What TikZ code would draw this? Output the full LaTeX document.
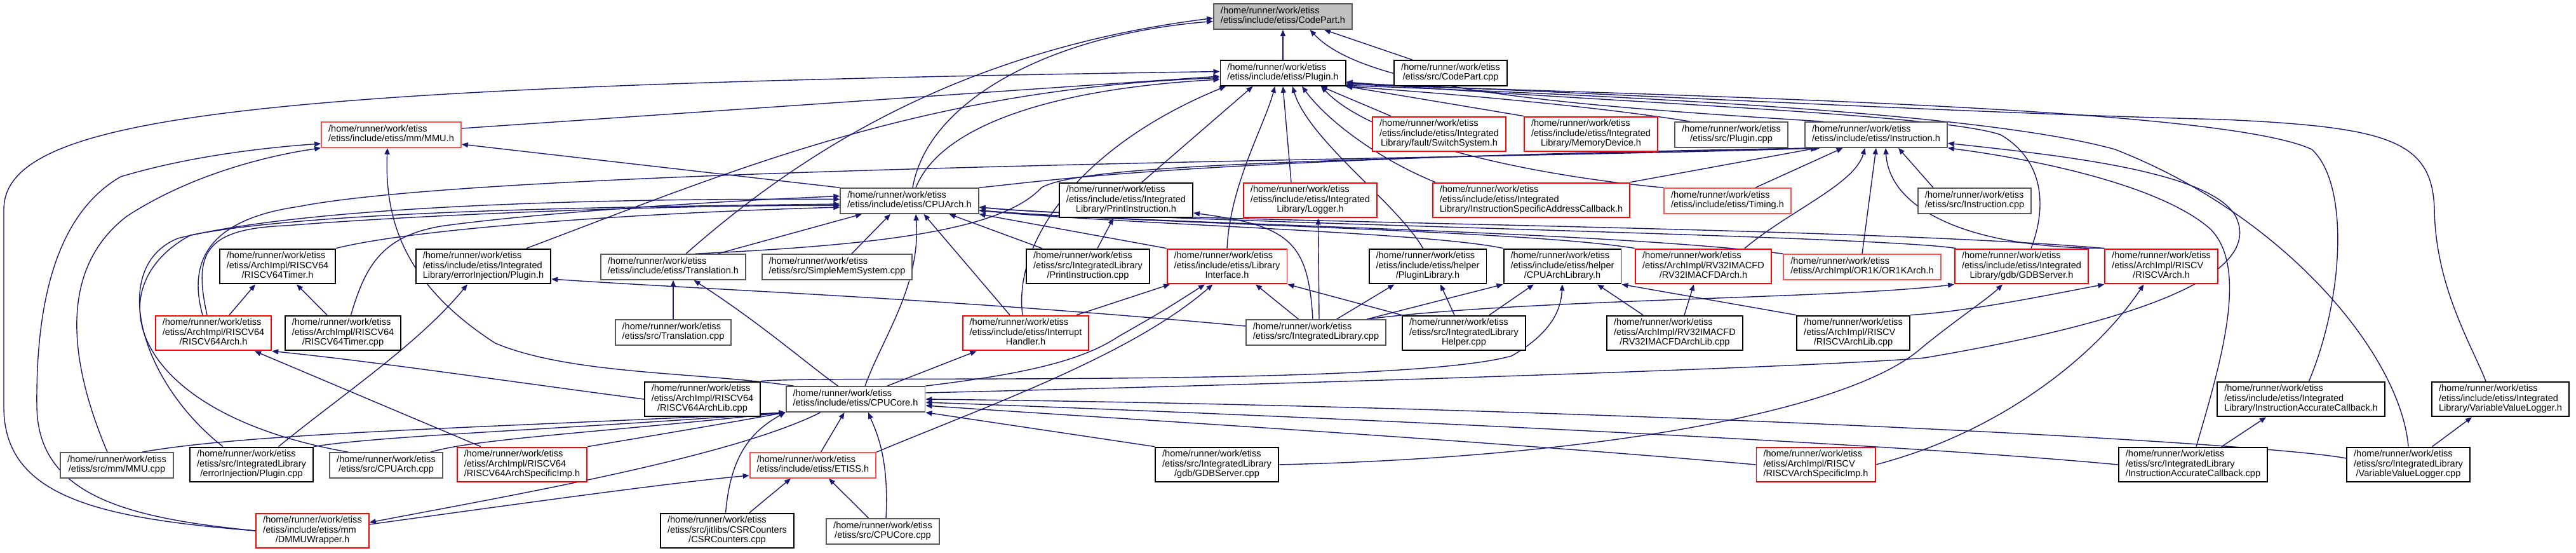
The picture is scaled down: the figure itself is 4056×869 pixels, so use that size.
\documentclass[tikz,border=0pt]{standalone}
\usepackage{fontspec}
\usepackage{tikz}
\usetikzlibrary{arrows.meta,backgrounds}
\newfontfamily\dxfont{Liberation Sans}
\definecolor{edgeblue}{HTML}{191970}
\definecolor{rootgray}{HTML}{BFBFBF}
\definecolor{boxgray}{HTML}{595959}
\definecolor{truncred}{HTML}{FF0000}
\definecolor{lightred}{HTML}{FF5050}
% file label: all lines left, last line centred
\newcommand{\flabel}[2]{\begin{tabular}{@{}l@{}}#1\\\multicolumn{1}{@{}c@{}}{#2}\end{tabular}}
\newcommand{\hm}{/home/runner/work/etiss}

\begin{document}
\begin{tikzpicture}[
    x=0.02cm, y=-0.02cm,
    filebox/.style={draw=black, fill=white, line width=1.1pt, inner xsep=0.22cm,
                    inner ysep=0.095cm, font=\dxfont\fontsize{8.3}{8.6}\selectfont},
    grayfile/.style={filebox, draw=boxgray},
    redfile/.style={filebox, draw=truncred},
    lredfile/.style={filebox, draw=lightred},
    rootfile/.style={filebox, draw=boxgray, fill=rootgray},
    inc/.style={-{Triangle[length=0.2cm,width=0.16cm]}, draw=edgeblue, line width=0.8pt},
]
\useasboundingbox (0,0) rectangle (4056,869);

% ---- row 0/1 ----
\node[rootfile] (codepart)    at (2020,26)  {\flabel{\hm}{/etiss/include/etiss/CodePart.h}};
\node[filebox]  (plug)        at (2020,115) {\flabel{\hm}{/etiss/include/etiss/Plugin.h}};
\node[filebox]  (codepartcpp) at (2284,115) {\flabel{\hm}{/etiss/src/CodePart.cpp}};

% ---- row 2 ----
\node[lredfile] (mmu)       at (616,212)  {\flabel{\hm}{/etiss/include/etiss/mm/MMU.h}};
\node[redfile]  (switchsys) at (2266,211) {\flabel{\hm\\/etiss/include/etiss/Integrated}{Library/fault/SwitchSystem.h}};
\node[redfile]  (memdev)    at (2505,211) {\flabel{\hm\\/etiss/include/etiss/Integrated}{Library/MemoryDevice.h}};
\node[grayfile] (plugcpp)   at (2726,212) {\flabel{\hm}{/etiss/src/Plugin.cpp}};
\node[grayfile] (instr)     at (2954,212) {\flabel{\hm}{/etiss/include/etiss/Instruction.h}};

% ---- row 3 ----
\node[grayfile] (cpuarch)  at (1432,316) {\flabel{\hm}{/etiss/include/etiss/CPUArch.h}};
\node[filebox]  (printh)   at (1773,315) {\flabel{\hm\\/etiss/include/etiss/Integrated}{Library/PrintInstruction.h}};
\node[redfile]  (logger)   at (2063,315) {\flabel{\hm\\/etiss/include/etiss/Integrated}{Library/Logger.h}};
\node[redfile]  (isac)     at (2411,315) {\flabel{\hm\\/etiss/include/etiss/Integrated}{Library/InstructionSpecificAddressCallback.h}};
\node[lredfile] (timing)   at (2720,316) {\flabel{\hm}{/etiss/include/etiss/Timing.h}};
\node[grayfile] (instrcpp) at (3109,316) {\flabel{\hm}{/etiss/src/Instruction.cpp}};

% ---- row 4 ----
\node[filebox]  (rvtimerh)  at (437,419)  {\flabel{\hm\\/etiss/ArchImpl/RISCV64}{/RISCV64Timer.h}};
\node[filebox]  (errplugh)  at (761,419)  {\flabel{\hm\\/etiss/include/etiss/Integrated}{Library/errorInjection/Plugin.h}};
\node[grayfile] (transl)    at (1060,420) {\flabel{\hm}{/etiss/include/etiss/Translation.h}};
\node[grayfile] (simplemem) at (1318,420) {\flabel{\hm}{/etiss/src/SimpleMemSystem.cpp}};
\node[filebox]  (printcpp)  at (1713,419) {\flabel{\hm\\/etiss/src/IntegratedLibrary}{/PrintInstruction.cpp}};
\node[redfile]  (libif)     at (1932,419) {\flabel{\hm\\/etiss/include/etiss/Library}{Interface.h}};
\node[filebox]  (pluglib)   at (2248,419) {\flabel{\hm\\/etiss/include/etiss/helper}{/PluginLibrary.h}};
\node[filebox]  (archlib)   at (2460,419) {\flabel{\hm\\/etiss/include/etiss/helper}{/CPUArchLibrary.h}};
\node[redfile]  (rv32)      at (2682,419) {\flabel{\hm\\/etiss/ArchImpl/RV32IMACFD}{/RV32IMACFDArch.h}};
\node[lredfile] (or1k)      at (2932,420) {\flabel{\hm}{/etiss/ArchImpl/OR1K/OR1KArch.h}};
\node[redfile]  (gdbh)      at (3183,419) {\flabel{\hm\\/etiss/include/etiss/Integrated}{Library/gdb/GDBServer.h}};
\node[redfile]  (riscv)     at (3403,419) {\flabel{\hm\\/etiss/ArchImpl/RISCV}{/RISCVArch.h}};

% ---- row 5 ----
\node[redfile]  (rv64arch)   at (336,524)  {\flabel{\hm\\/etiss/ArchImpl/RISCV64}{/RISCV64Arch.h}};
\node[filebox]  (rvtimercpp) at (540,524)  {\flabel{\hm\\/etiss/ArchImpl/RISCV64}{/RISCV64Timer.cpp}};
\node[grayfile] (translcpp)  at (1060,523) {\flabel{\hm}{/etiss/src/Translation.cpp}};
\node[redfile]  (interrupt)  at (1615,524) {\flabel{\hm\\/etiss/include/etiss/Interrupt}{Handler.h}};
\node[grayfile] (intlib)     at (2072,523) {\flabel{\hm}{/etiss/src/IntegratedLibrary.cpp}};
\node[filebox]  (helper)     at (2305,524) {\flabel{\hm\\/etiss/src/IntegratedLibrary}{Helper.cpp}};
\node[filebox]  (rv32lib)    at (2637,524) {\flabel{\hm\\/etiss/ArchImpl/RV32IMACFD}{/RV32IMACFDArchLib.cpp}};
\node[filebox]  (riscvlib)   at (2918,524) {\flabel{\hm\\/etiss/ArchImpl/RISCV}{/RISCVArchLib.cpp}};

% ---- row 6 ----
\node[filebox]  (rv64lib) at (1106,628) {\flabel{\hm\\/etiss/ArchImpl/RISCV64}{/RISCV64ArchLib.cpp}};
\node[grayfile] (cpucore) at (1347,628) {\flabel{\hm}{/etiss/include/etiss/CPUCore.h}};
\node[filebox]  (iach)    at (3623,628) {\flabel{\hm\\/etiss/include/etiss/Integrated}{Library/InstructionAccurateCallback.h}};
\node[filebox]  (vvlh)    at (3937,628) {\flabel{\hm\\/etiss/include/etiss/Integrated}{Library/VariableValueLogger.h}};

% ---- row 7 ----
\node[grayfile] (mmucpp)     at (184,732)  {\flabel{\hm}{/etiss/src/mm/MMU.cpp}};
\node[filebox]  (errplugcpp) at (396,731)  {\flabel{\hm\\/etiss/src/IntegratedLibrary}{/errorInjection/Plugin.cpp}};
\node[grayfile] (cpuarchcpp) at (608,732)  {\flabel{\hm}{/etiss/src/CPUArch.cpp}};
\node[redfile]  (rv64spec)   at (822,731)  {\flabel{\hm\\/etiss/ArchImpl/RISCV64}{/RISCV64ArchSpecificImp.h}};
\node[lredfile] (etiss)      at (1280,732) {\flabel{\hm}{/etiss/include/etiss/ETISS.h}};
\node[filebox]  (gdbcpp)     at (1916,731) {\flabel{\hm\\/etiss/src/IntegratedLibrary}{/gdb/GDBServer.cpp}};
\node[redfile]  (riscvspec)  at (2859,731) {\flabel{\hm\\/etiss/ArchImpl/RISCV}{/RISCVArchSpecificImp.h}};
\node[filebox]  (iaccpp)     at (3453,731) {\flabel{\hm\\/etiss/src/IntegratedLibrary}{/InstructionAccurateCallback.cpp}};
\node[filebox]  (vvlcpp)     at (3792,731) {\flabel{\hm\\/etiss/src/IntegratedLibrary}{/VariableValueLogger.cpp}};

% ---- row 8 ----
\node[redfile]  (dmmu)       at (492,835)  {\flabel{\hm\\/etiss/include/etiss/mm}{/DMMUWrapper.h}};
\node[filebox]  (csrcpp)     at (1145,835) {\flabel{\hm\\/etiss/src/jitlibs/CSRCounters}{/CSRCounters.cpp}};
\node[grayfile] (cpucorecpp) at (1390,836) {\flabel{\hm}{/etiss/src/CPUCore.cpp}};

\begin{scope}[on background layer]
% ---- into CodePart.h ----
\draw[inc] (plug) -- (codepart);
\draw[inc] ([xshift=-1.2cm]codepartcpp.north) -- ([xshift=1.3cm]codepart.south);
\draw[inc] ([xshift=0.1cm]cpuarch.north) .. controls (1460,160) and (1650,55) .. ([yshift=-0.15cm]codepart.west);
\draw[inc] ([xshift=0.4cm]transl.north) .. controls (1250,250) and (1500,80) .. ([yshift=-0.05cm]codepart.west);
\draw[inc] ([xshift=0.6cm]instr.north west) .. controls (2450,165) and (2150,140) .. ([xshift=0.85cm]codepart.south);

% ---- into Plugin.h ----
\draw[inc] ([yshift=0.2cm]mmu.east) -- ([yshift=-0.1cm]plug.west);
\draw[inc] (dmmu.west) .. controls (150,815) and (6,780) .. (6,640) -- (6,330)
    .. controls (6,180) and (400,135) .. ([yshift=0.05cm]plug.west);
\draw[inc] ([xshift=1.36cm]errplugh.north) .. controls (1150,270) and (1450,140) .. ([yshift=-0.15cm]plug.west);
\draw[inc] ([xshift=0.2cm]cpuarch.north) .. controls (1480,200) and (1650,140) .. ([yshift=-0.2cm]plug.west);
\draw[inc] ([xshift=0.6cm]switchsys.north west) -- ([xshift=-0.8cm]plug.south east);
\draw[inc] (memdev.north west) -- (plug.south east);
\draw[inc] ([xshift=0.5cm]plugcpp.north west) .. controls (2500,165) and (2250,145) .. (plug.-12);
\draw[inc] ([xshift=0.5cm]printh.north) -- ([xshift=-0.95cm]plug.south);
\draw[inc] ([xshift=-0.6cm]logger.north) -- (plug.south);
\draw[inc] (libif.north) .. controls (1937,290) and (1990,200) .. ([xshift=-0.25cm]plug.south);
\draw[inc] ([xshift=-0.1cm]interrupt.north) .. controls (1595,380) and (1700,230) .. ([xshift=-1.8cm]plug.south);
\draw[inc] ([xshift=-0.15cm]pluglib.north) .. controls (2200,320) and (2060,220) .. ([xshift=0.3cm]plug.south);
\draw[inc] ([xshift=0.1cm]isac.north west) .. controls (2170,250) and (2090,190) .. ([xshift=0.6cm]plug.south);
\draw[inc] (timing.north west) .. controls (2400,275) and (2160,220) .. ([xshift=1.2cm]plug.south);
\draw[inc] ([xshift=0.3cm]gdbh.north) .. controls (3225,320) and (3215,250) .. (3150,212)
    .. controls (3050,178) and (2500,160) .. (plug.-8);
\draw[inc] ([xshift=0.25cm]iach.north) .. controls (3690,470) and (3700,290) .. (3640,235)
    .. controls (3500,170) and (2700,152) .. (plug.-10);
\draw[inc] ([xshift=-0.46cm]vvlh.north) .. controls (3890,540) and (3835,450) .. (3833,330)
    .. controls (3830,220) and (3760,200) .. (3500,188) .. controls (3100,178) and (2600,150) .. (plug.-9);
\draw[inc] (vvlcpp.north) .. controls (3780,560) and (3600,340) .. (3330,235)
    .. controls (3150,185) and (2700,156) .. (plug.-11);

% ---- into MMU.h ----
\draw[inc] ([xshift=-0.3cm]mmucpp.north) .. controls (105,560) and (95,420) .. (200,340)
    .. controls (300,275) and (420,245) .. (mmu.south west);
\draw[inc] (dmmu.west) .. controls (200,815) and (60,780) .. (58,640) .. controls (56,450) and (100,330) .. (190,278)
    .. controls (300,245) and (420,232) .. ([yshift=-0.28cm]mmu.west);
\draw[inc] ([xshift=-1.95cm]cpucore.north) .. controls (1100,585) and (900,590) .. (780,540)
    .. controls (640,450) and (605,350) .. ([xshift=-0.12cm]mmu.south);
\draw[inc] (cpuarch.north west) -- ([yshift=-0.3cm]mmu.east);

% ---- into Instruction.h ----
\draw[inc] (cpuarch.north east) .. controls (1650,285) and (1850,250) .. ([xshift=0.4cm]instr.south west);
\draw[inc] ([xshift=0.7cm]transl.north) .. controls (1400,385) and (1580,360) .. (1640,295)
    .. controls (1700,262) and (2000,252) .. ([xshift=0.45cm]instr.south west);
\draw[inc] ([xshift=-0.34cm]rv64arch.north) .. controls (295,410) and (330,345) .. (470,325)
    .. controls (800,260) and (2400,250) .. ([xshift=0.5cm]instr.south west);
\draw[inc] (isac.north east) -- ([xshift=0.4cm]instr.south west);
\draw[inc] ([xshift=0.88cm]timing.north) -- ([xshift=-1.05cm]instr.south);
\draw[inc] ([xshift=1.3cm]rv32.north) .. controls (2820,330) and (2920,290) .. ([xshift=-0.35cm]instr.south);
\draw[inc] (or1k.north) -- (instr.south);
\draw[inc] (riscv.north west) .. controls (3100,390) and (2975,330) .. ([xshift=0.3cm]instr.south);
\draw[inc] ([xshift=0.5cm]instrcpp.north west) -- ([xshift=0.7cm]instr.south);
\draw[inc] ([xshift=0.1cm]iaccpp.north) .. controls (3500,560) and (3540,420) .. (3480,360)
    .. controls (3400,290) and (3200,250) .. (instr.south east);
\draw[inc] ([yshift=0.2cm]cpucore.east) .. controls (2200,600) and (2900,575) .. (3030,563)
    .. controls (3420,497) and (3560,420) .. (3520,340) .. controls (3480,270) and (3250,245) .. ([yshift=0.15cm]instr.south east);

% ---- into CPUArch.h ----
\draw[inc] ([xshift=1.4cm]transl.north) -- ([xshift=-1.5cm]cpuarch.south);
\draw[inc] ([xshift=0.46cm]simplemem.north) -- ([xshift=-0.6cm]cpuarch.south);
\draw[inc] ([xshift=0.3cm]cpucore.north) .. controls (1390,530) and (1450,450) .. ([xshift=0.2cm]cpuarch.south);
\draw[inc] ([xshift=-0.5cm]interrupt.north) -- ([xshift=0.45cm]cpuarch.south);
\draw[inc] ([xshift=-1.45cm]printcpp.north) -- ([xshift=1.25cm]cpuarch.south);
\draw[inc] (libif.north west) -- (cpuarch.south east);
\draw[inc] (archlib.north west) .. controls (2250,365) and (1750,352) .. ([yshift=-0.3cm]cpuarch.east);
\draw[inc] (rv32.north west) .. controls (2400,362) and (1800,352) .. ([yshift=-0.3cm]cpuarch.east);
\draw[inc] (or1k.north west) .. controls (2500,362) and (1800,352) .. ([yshift=-0.3cm]cpuarch.east);
\draw[inc] (riscv.north west) .. controls (2900,355) and (1800,350) .. ([yshift=-0.2cm]cpuarch.east);
\draw[inc] ([xshift=0.05cm]gdbh.north west) .. controls (2950,370) and (1800,350) .. ([yshift=-0.2cm]cpuarch.east);
\draw[inc] ([xshift=-0.9cm]errplugcpp.north) .. controls (220,600) and (170,420) .. (280,375)
    .. controls (500,320) and (1000,312) .. ([yshift=0.05cm]cpuarch.west);
\draw[inc] ([xshift=-1.2cm]cpuarchcpp.north) .. controls (200,650) and (150,450) .. (300,370)
    .. controls (500,330) and (1000,325) .. ([yshift=-0.1cm]cpuarch.west);
\draw[inc] ([xshift=-0.2cm]rv64arch.north) .. controls (305,400) and (320,360) .. (450,355)
    .. controls (700,335) and (1100,322) .. ([yshift=-0.15cm]cpuarch.west);
\draw[inc] (rvtimerh.north east) .. controls (650,360) and (1000,335) .. ([yshift=-0.2cm]cpuarch.west);
\draw[inc] ([xshift=0.25cm]rvtimercpp.north) .. controls (575,420) and (600,370) .. (700,355)
    .. controls (850,335) and (1100,318) .. ([yshift=0.15cm]cpuarch.west);

% ---- middle rows ----
\draw[inc] (translcpp) -- (transl);
\draw[inc] ([xshift=-0.55cm]cpucore.north) .. controls (1280,580) and (1200,510) .. ([xshift=0.65cm]transl.south);
\draw[inc] ([xshift=1.0cm]cpucore.north) -- ([xshift=-1.55cm]interrupt.south);
\draw[inc] (cpucore.north east) .. controls (1600,590) and (1700,570) .. (1760,530)
    .. controls (1830,490) .. ([xshift=-0.7cm]libif.south);
\draw[inc] (etiss.north east) .. controls (1550,640) and (1780,560) .. ([xshift=-0.45cm]libif.south);
\draw[inc] ([xshift=1.6cm]interrupt.north) -- ([xshift=-1.8cm]libif.south);
\draw[inc] ([xshift=-0.55cm]intlib.north) -- ([xshift=0.9cm]libif.south);
\draw[inc] (helper.north west) -- (libif.south east);
\draw[inc] ([xshift=0.3cm]printcpp.north) -- ([xshift=-0.4cm]printh.south);
\draw[inc] ([xshift=-0.1cm]intlib.north) .. controls (2060,380) and (2030,355) .. ([yshift=-0.4cm]printh.east);
\draw[inc] ([xshift=0.1cm]intlib.north) -- ([xshift=0.25cm]logger.south);
\draw[inc] ([xshift=0.65cm]intlib.north) -- ([xshift=-1.05cm]pluglib.south);
\draw[inc] ([xshift=1.6cm]intlib.north) -- (archlib.south west);
\draw[inc] ([xshift=1.6cm]intlib.north) .. controls (2400,470) and (2900,470) .. (gdbh.south west);
\draw[inc] ([yshift=0.2cm]intlib.west) .. controls (1500,470) and (1100,455) .. ([yshift=-0.4cm]errplugh.east);
\draw[inc] ([xshift=-0.3cm]helper.north) -- ([xshift=0.4cm]pluglib.south);
\draw[inc] ([xshift=0.8cm]helper.north) -- ([xshift=-0.9cm]archlib.south);
\draw[inc] ([xshift=-1cm]rv32lib.north) -- ([xshift=1.1cm]archlib.south);
\draw[inc] ([xshift=0.3cm]rv32lib.north) -- ([xshift=-0.3cm]rv32.south);
\draw[inc] (riscvlib.north west) -- (archlib.south east);
\draw[inc] (riscvlib.north east) .. controls (3100,490) and (3220,465) .. (riscv.south west);
\draw[inc] (rv64lib.north east) .. controls (1300,590) and (2200,610) .. (2380,560)
    .. controls (2450,520) and (2458,480) .. (archlib.south);
\draw[inc] (rv64lib.west) .. controls (800,600) and (600,570) .. (rv64arch.south east);
\draw[inc] ([xshift=-1.3cm]rv64spec.north) -- ([xshift=1.3cm]rv64arch.south);
\draw[inc] ([xshift=0.5cm]rv64arch.north) -- ([xshift=-0.7cm]rvtimerh.south);
\draw[inc] ([xshift=-0.5cm]rvtimercpp.north) -- ([xshift=0.6cm]rvtimerh.south);
\draw[inc] ([xshift=0.85cm]errplugcpp.north) .. controls (540,620) and (660,540) .. ([xshift=-0.5cm]errplugh.south);

% ---- into CPUCore.h and lower ----
\draw[inc] (rv64spec.north east) .. controls (1000,690) and (1150,665) .. (cpucore.south west);
\draw[inc] ([xshift=0.8cm]mmucpp.north) .. controls (400,680) and (800,672) .. (cpucore.south west);
\draw[inc] (errplugcpp.north east) .. controls (600,685) and (900,675) .. (cpucore.south west);
\draw[inc] ([xshift=1.4cm]cpuarchcpp.north) .. controls (750,690) and (950,680) .. (cpucore.south west);
\draw[inc] ([xshift=-0.05cm]csrcpp.north) .. controls (1150,720) and (1180,680) .. (cpucore.south west);
\draw[inc] ([xshift=0.7cm]csrcpp.north) -- ([xshift=-0.7cm]etiss.south);
\draw[inc] ([xshift=-0.45cm]cpucorecpp.north) -- ([xshift=0.5cm]etiss.south);
\draw[inc] ([xshift=0.1cm]cpucorecpp.north) .. controls (1400,720) and (1380,680) .. ([xshift=0.4cm]cpucore.south);
\draw[inc] ([xshift=0.25cm]etiss.north) -- ([xshift=-0.35cm]cpucore.south);
\draw[inc] (gdbcpp.north west) -- (cpucore.south east);
\draw[inc] (riscvspec.west) .. controls (2300,690) and (1700,655) .. ([yshift=-0.2cm]cpucore.east);
\draw[inc] (iaccpp.west) .. controls (2900,690) and (1800,645) .. ([yshift=-0.1cm]cpucore.east);
\draw[inc] ([yshift=0.2cm]vvlcpp.west) .. controls (3560,695) and (2500,640) .. (cpucore.east);
\draw[inc] (gdbcpp.east) .. controls (2500,720) and (2900,650) .. (3020,552)
    .. controls (3070,510) and (3130,470) .. ([xshift=-0.6cm]gdbh.south);
\draw[inc] (riscvspec.east) .. controls (3150,680) and (3300,560) .. ([xshift=-0.55cm]riscv.south);
\draw[inc] ([xshift=0.9cm]iaccpp.north) -- ([xshift=-1.1cm]iach.south);
\draw[inc] ([xshift=0.75cm]vvlcpp.north) -- ([xshift=-0.9cm]vvlh.south);
\draw[inc] ([xshift=-1.1cm]cpucore.south) .. controls (1150,720) and (800,780) .. ([yshift=0.26cm]dmmu.east);
\draw[inc] ([yshift=0.2cm]dmmu.east) .. controls (800,795) and (1050,760) .. ([yshift=-0.32cm]etiss.west);
\end{scope}
\end{tikzpicture}
\end{document}
